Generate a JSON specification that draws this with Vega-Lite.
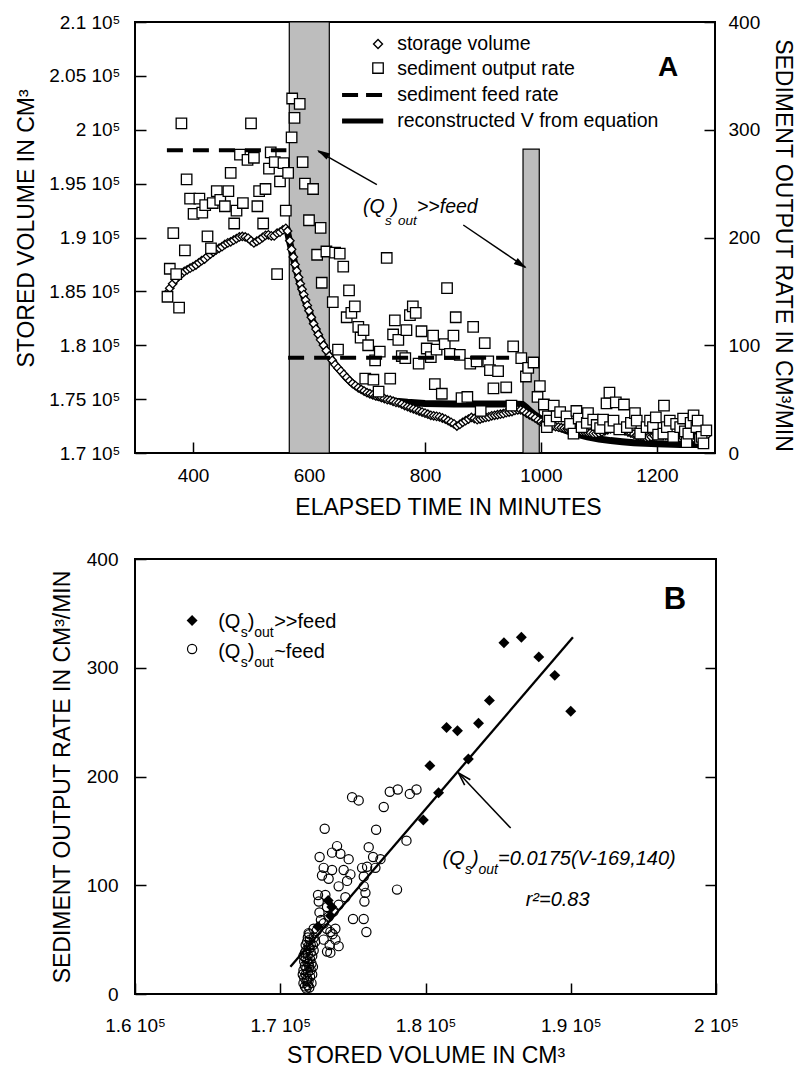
{
"$schema": "https://vega.github.io/schema/vega-lite/v6.json",
"padding": {"left": 14, "top": 12, "right": 4, "bottom": 2},
"background": "white",
"spacing": 28,
"config": {
 "view": {"stroke": "black", "strokeWidth": 2},
 "font": "Liberation Sans",
 "axis": {"domain": false, "grid": false, "ticks": true, "tickColor": "black", "tickWidth": 1.5, "tickSize": -11, "labelColor": "black", "labelFont": "Liberation Sans", "labelFontSize": 19, "titleFont": "Liberation Sans", "titleFontSize": 23, "titleFontWeight": "normal", "titleColor": "black", "labelFlush": false, "labelOverlap": false},
 "text": {"font": "Liberation Sans", "color": "black"}
},
"datasets": {
 "bands": [{"t0":566,"t1":635,"v0":170000,"v1":210000},{"t0":969,"t1":997,"v0":170000,"v1":198200}],
 "feed": [{"seg":"a","t":355,"Q":281},{"seg":"a","t":561,"Q":281},{"seg":"b","t":564,"Q":88.5},{"seg":"b","t":945,"Q":88.5}],
 "recon": [{"t":563,"V":190500},{"t":567,"V":189500},{"t":570,"V":188800},{"t":574,"V":187900},{"t":578,"V":187000},{"t":582,"V":186200},{"t":586,"V":185400},{"t":590,"V":184700},{"t":595,"V":183900},{"t":600,"V":183200},{"t":606,"V":182300},{"t":612,"V":181500},{"t":618,"V":180800},{"t":625,"V":180000},{"t":632,"V":179300},{"t":640,"V":178600},{"t":648,"V":178000},{"t":656,"V":177500},{"t":664,"V":177000},{"t":672,"V":176600},{"t":680,"V":176250},{"t":690,"V":175900},{"t":700,"V":175600},{"t":710,"V":175350},{"t":720,"V":175150},{"t":735,"V":174950},{"t":750,"V":174800},{"t":770,"V":174700},{"t":800,"V":174600},{"t":850,"V":174550},{"t":900,"V":174550},{"t":950,"V":174550},{"t":968,"V":174500},{"t":975,"V":174200},{"t":982,"V":173850},{"t":990,"V":173500},{"t":1000,"V":173150},{"t":1010,"V":172850},{"t":1020,"V":172600},{"t":1035,"V":172250},{"t":1050,"V":171950},{"t":1065,"V":171700},{"t":1080,"V":171500},{"t":1100,"V":171300},{"t":1120,"V":171150},{"t":1140,"V":171050},{"t":1160,"V":170950},{"t":1180,"V":170900},{"t":1200,"V":170850},{"t":1240,"V":170800},{"t":1285,"V":170800}],
 "volume": [{"t":355,"V":184800},{"t":360,"V":185300},{"t":365,"V":185700},{"t":370,"V":186100},{"t":375,"V":186400},{"t":380,"V":186600},{"t":385,"V":186850},{"t":390,"V":187000},{"t":395,"V":187150},{"t":400,"V":187300},{"t":405,"V":187450},{"t":410,"V":187650},{"t":415,"V":187850},{"t":420,"V":188000},{"t":425,"V":188250},{"t":430,"V":188450},{"t":435,"V":188650},{"t":440,"V":188850},{"t":445,"V":189000},{"t":450,"V":189150},{"t":455,"V":189350},{"t":460,"V":189500},{"t":465,"V":189600},{"t":470,"V":189750},{"t":475,"V":189900},{"t":480,"V":190050},{"t":485,"V":190100},{"t":490,"V":190050},{"t":495,"V":189950},{"t":500,"V":189700},{"t":505,"V":189500},{"t":510,"V":189650},{"t":515,"V":189800},{"t":520,"V":190000},{"t":525,"V":190200},{"t":530,"V":190250},{"t":535,"V":190150},{"t":540,"V":190150},{"t":545,"V":190400},{"t":550,"V":190500},{"t":555,"V":190700},{"t":560,"V":190850},{"t":563,"V":190600},{"t":567,"V":189700},{"t":570,"V":188900},{"t":573,"V":188200},{"t":576,"V":187500},{"t":579,"V":186900},{"t":582,"V":186300},{"t":585,"V":185700},{"t":588,"V":185200},{"t":591,"V":184700},{"t":594,"V":184200},{"t":597,"V":183700},{"t":600,"V":183200},{"t":604,"V":182600},{"t":608,"V":182000},{"t":612,"V":181500},{"t":616,"V":181000},{"t":620,"V":180500},{"t":625,"V":180000},{"t":630,"V":179500},{"t":635,"V":179000},{"t":640,"V":178600},{"t":645,"V":178200},{"t":650,"V":177900},{"t":655,"V":177600},{"t":660,"V":177300},{"t":665,"V":177000},{"t":670,"V":176700},{"t":675,"V":176450},{"t":680,"V":176250},{"t":685,"V":176050},{"t":690,"V":175900},{"t":695,"V":175750},{"t":700,"V":175600},{"t":705,"V":175500},{"t":710,"V":175400},{"t":715,"V":175300},{"t":720,"V":175250},{"t":725,"V":175150},{"t":730,"V":175050},{"t":735,"V":174950},{"t":740,"V":174900},{"t":745,"V":174800},{"t":750,"V":174700},{"t":755,"V":174650},{"t":760,"V":174550},{"t":765,"V":174400},{"t":770,"V":174300},{"t":775,"V":174200},{"t":780,"V":174100},{"t":785,"V":174000},{"t":790,"V":173900},{"t":795,"V":173800},{"t":800,"V":173700},{"t":805,"V":173600},{"t":810,"V":173500},{"t":815,"V":173450},{"t":820,"V":173400},{"t":825,"V":173350},{"t":830,"V":173250},{"t":835,"V":173150},{"t":840,"V":173000},{"t":845,"V":172850},{"t":850,"V":172700},{"t":855,"V":172500},{"t":860,"V":172650},{"t":865,"V":172850},{"t":870,"V":173000},{"t":875,"V":173150},{"t":880,"V":173300},{"t":885,"V":173200},{"t":890,"V":173100},{"t":895,"V":173150},{"t":900,"V":173250},{"t":905,"V":173300},{"t":910,"V":173350},{"t":915,"V":173450},{"t":920,"V":173500},{"t":925,"V":173550},{"t":930,"V":173600},{"t":935,"V":173650},{"t":940,"V":173750},{"t":945,"V":173800},{"t":950,"V":173850},{"t":955,"V":173950},{"t":960,"V":174000},{"t":965,"V":174000},{"t":970,"V":173900},{"t":975,"V":173700},{"t":980,"V":173550},{"t":985,"V":173400},{"t":990,"V":173250},{"t":995,"V":173050},{"t":1000,"V":172900},{"t":1005,"V":172800},{"t":1010,"V":172700},{"t":1015,"V":172600},{"t":1020,"V":172500},{"t":1025,"V":172450},{"t":1030,"V":172400},{"t":1035,"V":172350},{"t":1040,"V":172300},{"t":1045,"V":172250},{"t":1050,"V":172200},{"t":1055,"V":172150},{"t":1060,"V":172100},{"t":1065,"V":172050},{"t":1070,"V":172000},{"t":1075,"V":171950},{"t":1080,"V":171900},{"t":1085,"V":171850},{"t":1090,"V":171800},{"t":1095,"V":171800},{"t":1100,"V":171850},{"t":1105,"V":171950},{"t":1110,"V":172050},{"t":1115,"V":172150},{"t":1120,"V":172250},{"t":1125,"V":172300},{"t":1130,"V":172300},{"t":1135,"V":172250},{"t":1140,"V":172150},{"t":1145,"V":172050},{"t":1150,"V":171950},{"t":1155,"V":171850},{"t":1160,"V":171750},{"t":1165,"V":171650},{"t":1170,"V":171550},{"t":1175,"V":171500},{"t":1180,"V":171450},{"t":1185,"V":171450},{"t":1190,"V":171500},{"t":1195,"V":171600},{"t":1200,"V":171650},{"t":1205,"V":171700},{"t":1210,"V":171700},{"t":1215,"V":171650},{"t":1220,"V":171600},{"t":1225,"V":171550},{"t":1230,"V":171500},{"t":1235,"V":171450},{"t":1240,"V":171400},{"t":1245,"V":171400},{"t":1250,"V":171350},{"t":1255,"V":171350},{"t":1260,"V":171300},{"t":1265,"V":171300},{"t":1270,"V":171350},{"t":1275,"V":171400},{"t":1280,"V":171500},{"t":1285,"V":171600}],
 "output": [{"t":356,"Q":145},{"t":360,"Q":171},{"t":366,"Q":204},{"t":371,"Q":166},{"t":376,"Q":135},{"t":380,"Q":306},{"t":386,"Q":188},{"t":389,"Q":254},{"t":395,"Q":236},{"t":401,"Q":222},{"t":411,"Q":236},{"t":416,"Q":223},{"t":421,"Q":230},{"t":425,"Q":201},{"t":431,"Q":190},{"t":434,"Q":232},{"t":441,"Q":243},{"t":447,"Q":235},{"t":455,"Q":229},{"t":461,"Q":243},{"t":465,"Q":260},{"t":471,"Q":213},{"t":475,"Q":225},{"t":481,"Q":277},{"t":486,"Q":232},{"t":494,"Q":272},{"t":500,"Q":306},{"t":505,"Q":274},{"t":511,"Q":229},{"t":514,"Q":243},{"t":521,"Q":213},{"t":525,"Q":245},{"t":531,"Q":264},{"t":534,"Q":279},{"t":541,"Q":270},{"t":545,"Q":166},{"t":550,"Q":252},{"t":556,"Q":269},{"t":560,"Q":225},{"t":564,"Q":260},{"t":570,"Q":293},{"t":571,"Q":329},{"t":575,"Q":311},{"t":584,"Q":324},{"t":589,"Q":270},{"t":593,"Q":250},{"t":600,"Q":216},{"t":607,"Q":245},{"t":614,"Q":184},{"t":620,"Q":209},{"t":622,"Q":158},{"t":630,"Q":187},{"t":641,"Q":140},{"t":645,"Q":186},{"t":650,"Q":96},{"t":653,"Q":185},{"t":659,"Q":173},{"t":665,"Q":126},{"t":669,"Q":151},{"t":673,"Q":130},{"t":679,"Q":136},{"t":685,"Q":117},{"t":689,"Q":107},{"t":694,"Q":114},{"t":697,"Q":69},{"t":702,"Q":100},{"t":711,"Q":68},{"t":714,"Q":86},{"t":720,"Q":57},{"t":722,"Q":94},{"t":734,"Q":181},{"t":740,"Q":69},{"t":745,"Q":110},{"t":748,"Q":123},{"t":754,"Q":105},{"t":760,"Q":90},{"t":766,"Q":88},{"t":768,"Q":114},{"t":774,"Q":128},{"t":779,"Q":136},{"t":784,"Q":130},{"t":789,"Q":83},{"t":794,"Q":113},{"t":803,"Q":97},{"t":810,"Q":89},{"t":814,"Q":109},{"t":817,"Q":64},{"t":820,"Q":96},{"t":829,"Q":55},{"t":834,"Q":101},{"t":838,"Q":153},{"t":843,"Q":92},{"t":849,"Q":109},{"t":853,"Q":126},{"t":860,"Q":91},{"t":863,"Q":51},{"t":873,"Q":52},{"t":878,"Q":83},{"t":883,"Q":117},{"t":889,"Q":85},{"t":896,"Q":39},{"t":903,"Q":102},{"t":909,"Q":85},{"t":912,"Q":77},{"t":918,"Q":60},{"t":926,"Q":76},{"t":940,"Q":61},{"t":949,"Q":44},{"t":952,"Q":99},{"t":966,"Q":88},{"t":974,"Q":71},{"t":978,"Q":79},{"t":987,"Q":84},{"t":994,"Q":52},{"t":998,"Q":62},{"t":1005,"Q":45},{"t":1010,"Q":24},{"t":1012,"Q":34},{"t":1015,"Q":30},{"t":1022,"Q":44},{"t":1027,"Q":34},{"t":1033,"Q":38},{"t":1044,"Q":34},{"t":1050,"Q":27},{"t":1056,"Q":18},{"t":1061,"Q":39},{"t":1065,"Q":32},{"t":1070,"Q":24},{"t":1079,"Q":28},{"t":1081,"Q":37},{"t":1090,"Q":31},{"t":1096,"Q":26},{"t":1102,"Q":23},{"t":1107,"Q":31},{"t":1113,"Q":46},{"t":1118,"Q":56},{"t":1119,"Q":24},{"t":1125,"Q":30},{"t":1129,"Q":47},{"t":1135,"Q":22},{"t":1143,"Q":45},{"t":1148,"Q":24},{"t":1155,"Q":28},{"t":1162,"Q":37},{"t":1165,"Q":30},{"t":1171,"Q":18},{"t":1182,"Q":24},{"t":1188,"Q":30},{"t":1193,"Q":24},{"t":1198,"Q":33},{"t":1202,"Q":17},{"t":1211,"Q":18},{"t":1212,"Q":44},{"t":1217,"Q":24},{"t":1222,"Q":30},{"t":1228,"Q":15},{"t":1233,"Q":27},{"t":1240,"Q":24},{"t":1245,"Q":32},{"t":1248,"Q":20},{"t":1251,"Q":10},{"t":1254,"Q":18},{"t":1258,"Q":28},{"t":1263,"Q":35},{"t":1268,"Q":24},{"t":1270,"Q":30},{"t":1274,"Q":13},{"t":1277,"Q":15},{"t":1280,"Q":9},{"t":1285,"Q":21}],
 "qhigh": [{"V":185400,"Q":323},{"V":186600,"Q":328},{"V":187800,"Q":310},{"V":188900,"Q":293},{"V":190000,"Q":260},{"V":184400,"Q":270},{"V":183650,"Q":249},{"V":181450,"Q":245},{"V":182200,"Q":242},{"V":182950,"Q":216},{"V":180300,"Q":210},{"V":180900,"Q":185},{"V":179850,"Q":160},{"V":172600,"Q":62},{"V":173300,"Q":86},{"V":173550,"Q":80},{"V":173450,"Q":72}],
 "qnear": [{"V":174945,"Q":181},{"V":175400,"Q":178},{"V":177540,"Q":186},{"V":178090,"Q":188},{"V":178920,"Q":184},{"V":179380,"Q":188},{"V":177125,"Q":172},{"V":173060,"Q":152},{"V":176600,"Q":151},{"V":178690,"Q":141},{"V":173910,"Q":136},{"V":173565,"Q":130},{"V":174140,"Q":129},{"V":174710,"Q":124},{"V":172710,"Q":126},{"V":176090,"Q":135},{"V":176390,"Q":126},{"V":176900,"Q":124},{"V":172990,"Q":116},{"V":173565,"Q":114},{"V":174365,"Q":114},{"V":174830,"Q":110},{"V":175635,"Q":116},{"V":175980,"Q":117},{"V":172875,"Q":109},{"V":173330,"Q":106},{"V":174600,"Q":104},{"V":175750,"Q":108},{"V":178040,"Q":96},{"V":174020,"Q":99},{"V":175750,"Q":99},{"V":172600,"Q":91},{"V":173105,"Q":91},{"V":174485,"Q":89},{"V":175865,"Q":93},{"V":175795,"Q":85},{"V":174020,"Q":82},{"V":175010,"Q":69},{"V":175745,"Q":69},{"V":175930,"Q":57},{"V":171955,"Q":56},{"V":173450,"Q":57},{"V":173795,"Q":60},{"V":172990,"Q":50},{"V":174020,"Q":44},{"V":173220,"Q":39},{"V":173450,"Q":38},{"V":173330,"Q":71},{"V":173680,"Q":76},{"V":173220,"Q":80},{"V":176550,"Q":116},{"V":171600,"Q":10},{"V":171700,"Q":7},{"V":171800,"Q":5},{"V":171900,"Q":8},{"V":172000,"Q":6},{"V":171650,"Q":15},{"V":171750,"Q":18},{"V":171850,"Q":14},{"V":171950,"Q":12},{"V":172050,"Q":16},{"V":172150,"Q":10},{"V":171600,"Q":22},{"V":171700,"Q":26},{"V":171800,"Q":24},{"V":171900,"Q":20},{"V":172000,"Q":25},{"V":172100,"Q":22},{"V":172200,"Q":18},{"V":171650,"Q":30},{"V":171750,"Q":33},{"V":171850,"Q":30},{"V":171950,"Q":28},{"V":172050,"Q":32},{"V":172150,"Q":28},{"V":171700,"Q":38},{"V":171800,"Q":40},{"V":171900,"Q":36},{"V":172000,"Q":42},{"V":172100,"Q":38},{"V":172200,"Q":35},{"V":171750,"Q":45},{"V":171850,"Q":48},{"V":171950,"Q":44},{"V":172050,"Q":50},{"V":172250,"Q":45},{"V":171550,"Q":18},{"V":172250,"Q":25},{"V":171600,"Q":35},{"V":172300,"Q":40},{"V":171800,"Q":12},{"V":172100,"Q":45},{"V":171900,"Q":52},{"V":172000,"Q":55},{"V":172300,"Q":52},{"V":172400,"Q":48},{"V":172500,"Q":58},{"V":172700,"Q":75},{"V":172800,"Q":68},{"V":173000,"Q":65},{"V":172650,"Q":85},{"V":173200,"Q":60},{"V":173600,"Q":55},{"V":173800,"Q":50},{"V":173400,"Q":45},{"V":172300,"Q":60}],
 "fit": [{"V":170700,"Q":25},{"V":190150,"Q":328}],
 "one": [{}]
},
"vconcat": [
 {
  "width": 580, "height": 431,
  "layer": [
   {"layer": [
    {"data": {"name": "bands"}, "mark": {"type": "rect", "fill": "#bdbdbd", "stroke": "black", "strokeWidth": 1.2},
     "encoding": {
      "x": {"field": "t0", "type": "quantitative", "scale": {"domain": [300, 1300], "nice": false, "zero": false},
            "axis": {"values": [400, 600, 800, 1000, 1200], "format": "d", "title": "ELAPSED TIME IN MINUTES", "labelPadding": 24.5, "titlePadding": 11, "titleX": 313}},
      "x2": {"field": "t1"},
      "y": {"field": "v0", "type": "quantitative", "scale": {"domain": [170000, 210000], "nice": false, "zero": false},
            "axis": {"orient": "left", "values": [170000, 175000, 180000, 185000, 190000, 195000, 200000, 205000, 210000], "labelExpr": "datum.value / 100000 + ' 10⁵'", "title": "STORED VOLUME IN CM³", "labelPadding": 26, "titlePadding": 10, "titleY": 206}},
      "y2": {"field": "v1"}}},
    {"data": {"name": "recon"}, "mark": {"type": "line", "color": "black", "strokeWidth": 7},
     "encoding": {"x": {"field": "t", "type": "quantitative"}, "y": {"field": "V", "type": "quantitative"}}},
    {"data": {"name": "volume"}, "mark": {"type": "point", "shape": "diamond", "filled": true, "fill": "white", "stroke": "black", "strokeWidth": 1.3, "size": 72, "opacity": 1},
     "encoding": {"x": {"field": "t", "type": "quantitative"}, "y": {"field": "V", "type": "quantitative"}}},
    {"data": {"name": "one"}, "mark": {"type": "point", "shape": "diamond", "filled": true, "fill": "white", "stroke": "black", "strokeWidth": 1.4, "size": 80, "opacity": 1},
     "encoding": {"x": {"datum": 719}, "y": {"datum": 207955}}},
    {"data": {"name": "one"}, "mark": {"type": "point", "shape": "square", "filled": true, "fill": "white", "stroke": "black", "strokeWidth": 1.3, "size": 110, "opacity": 1},
     "encoding": {"x": {"datum": 719}, "y": {"datum": 205728}}},
    {"data": {"name": "one"}, "mark": {"type": "rule", "color": "black", "strokeWidth": 4, "strokeDash": [16, 8]},
     "encoding": {"x": {"datum": 657}, "x2": {"datum": 728}, "y": {"datum": 203222}}},
    {"data": {"name": "one"}, "mark": {"type": "rule", "color": "black", "strokeWidth": 5},
     "encoding": {"x": {"datum": 657}, "x2": {"datum": 728}, "y": {"datum": 200810}}},
    {"data": {"name": "one"}, "mark": {"type": "text", "text": "storage volume", "fontSize": 19.5, "align": "left", "baseline": "middle"},
     "encoding": {"x": {"datum": 752}, "y": {"datum": 207955}}},
    {"data": {"name": "one"}, "mark": {"type": "text", "text": "sediment output rate", "fontSize": 19.5, "align": "left", "baseline": "middle"},
     "encoding": {"x": {"datum": 752}, "y": {"datum": 205635}}},
    {"data": {"name": "one"}, "mark": {"type": "text", "text": "sediment feed rate", "fontSize": 19.5, "align": "left", "baseline": "middle"},
     "encoding": {"x": {"datum": 752}, "y": {"datum": 203222}}},
    {"data": {"name": "one"}, "mark": {"type": "text", "text": "reconstructed V from equation", "fontSize": 19.5, "align": "left", "baseline": "middle"},
     "encoding": {"x": {"datum": 752}, "y": {"datum": 200810}}},
    {"data": {"name": "one"}, "mark": {"type": "text", "text": "A", "fontSize": 28, "fontWeight": "bold", "align": "center", "baseline": "middle"},
     "encoding": {"x": {"datum": 1219}, "y": {"datum": 205728}}}
   ]},
   {"layer": [
    {"data": {"name": "output"}, "mark": {"type": "point", "shape": "square", "filled": true, "fill": "white", "stroke": "black", "strokeWidth": 1.3, "size": 110, "opacity": 1},
     "encoding": {"x": {"field": "t", "type": "quantitative"},
      "y": {"field": "Q", "type": "quantitative", "scale": {"domain": [0, 400], "nice": false, "zero": false},
            "axis": {"orient": "right", "values": [0, 100, 200, 300, 400], "title": "SEDIMENT OUTPUT RATE IN CM³/MIN", "labelPadding": 24, "titlePadding": 11, "titleY": 223}}}},
    {"data": {"name": "feed"}, "mark": {"type": "line", "color": "black", "strokeWidth": 4, "strokeDash": [16, 10]},
     "encoding": {"x": {"field": "t", "type": "quantitative"}, "y": {"field": "Q", "type": "quantitative"}, "detail": {"field": "seg"}}},
    {"data": {"name": "one"}, "mark": {"type": "rule", "color": "black", "strokeWidth": 1.5},
     "encoding": {"x": {"datum": 717}, "y": {"datum": 249}, "x2": {"datum": 616}, "y2": {"datum": 280}}},
    {"data": {"name": "one"}, "mark": {"type": "point", "shape": "M0,0L-0.55,2L0.55,2Z", "filled": true, "color": "black", "size": 169, "angle": 300, "opacity": 1},
     "encoding": {"x": {"datum": 614}, "y": {"datum": 281.2}}},
    {"data": {"name": "one"}, "mark": {"type": "rule", "color": "black", "strokeWidth": 1.5},
     "encoding": {"x": {"datum": 866}, "y": {"datum": 211.6}, "x2": {"datum": 973}, "y2": {"datum": 172.5}}},
    {"data": {"name": "one"}, "mark": {"type": "point", "shape": "M0,0L-0.55,2L0.55,2Z", "filled": true, "color": "black", "size": 169, "angle": 124, "opacity": 1},
     "encoding": {"x": {"datum": 975}, "y": {"datum": 171.4}}},
    {"data": {"name": "one"}, "mark": {"type": "text", "text": "(Q", "fontSize": 19.5, "fontStyle": "italic", "align": "left", "baseline": "alphabetic"},
     "encoding": {"x": {"datum": 693}, "y": {"datum": 222.7}}},
    {"data": {"name": "one"}, "mark": {"type": "text", "text": "s", "fontSize": 13.5, "fontStyle": "italic", "align": "left", "baseline": "alphabetic", "dx": 22, "dy": 12},
     "encoding": {"x": {"datum": 693}, "y": {"datum": 222.7}}},
    {"data": {"name": "one"}, "mark": {"type": "text", "text": ")", "fontSize": 19.5, "fontStyle": "italic", "align": "left", "baseline": "alphabetic", "dx": 28.5},
     "encoding": {"x": {"datum": 693}, "y": {"datum": 222.7}}},
    {"data": {"name": "one"}, "mark": {"type": "text", "text": "out", "fontSize": 13.5, "fontStyle": "italic", "align": "left", "baseline": "alphabetic", "dx": 35, "dy": 12},
     "encoding": {"x": {"datum": 693}, "y": {"datum": 222.7}}},
    {"data": {"name": "one"}, "mark": {"type": "text", "text": ">>feed", "fontSize": 19.5, "fontStyle": "italic", "align": "left", "baseline": "alphabetic", "dx": 54},
     "encoding": {"x": {"datum": 693}, "y": {"datum": 222.7}}}
   ]}
  ],
  "resolve": {"scale": {"y": "independent"}}
 },
 {
  "width": 581, "height": 435,
  "layer": [
   {"layer": [
    {"data": {"name": "qnear"}, "mark": {"type": "point", "shape": "circle", "filled": false, "stroke": "black", "strokeWidth": 1.2, "size": 85, "opacity": 1},
     "encoding": {
      "x": {"field": "V", "type": "quantitative", "scale": {"domain": [160000, 200000], "nice": false, "zero": false},
            "axis": {"values": [160000, 170000, 180000, 190000, 200000], "labelExpr": "datum.value / 100000 + ' 10⁵'", "title": "STORED VOLUME IN CM³", "labelPadding": 33.5, "titlePadding": 8.5}},
      "y": {"field": "Q", "type": "quantitative", "scale": {"domain": [0, 400], "nice": false, "zero": false},
            "axis": {"orient": "left", "values": [0, 100, 200, 300, 400], "title": "SEDIMENT OUTPUT RATE IN CM³/MIN", "labelPadding": 28, "titlePadding": 12}}}},
    {"data": {"name": "qhigh"}, "mark": {"type": "point", "shape": "diamond", "filled": true, "color": "black", "size": 120, "opacity": 1},
     "encoding": {"x": {"field": "V", "type": "quantitative"}, "y": {"field": "Q", "type": "quantitative"}}},
    {"data": {"name": "one"}, "mark": {"type": "rule", "color": "black", "strokeWidth": 1.5},
     "encoding": {"x": {"datum": 185864}, "y": {"datum": 152.6}, "x2": {"datum": 182277}, "y2": {"datum": 203.2}}},
    {"data": {"name": "one"}, "mark": {"type": "point", "shape": "M-0.6,2L0,0L0.6,2", "filled": false, "stroke": "black", "strokeWidth": 1.6, "size": 169, "angle": 316.6, "opacity": 1},
     "encoding": {"x": {"datum": 182277}, "y": {"datum": 203.2}}},
    {"data": {"name": "one"}, "mark": {"type": "point", "shape": "diamond", "filled": true, "color": "black", "size": 120, "opacity": 1},
     "encoding": {"x": {"datum": 163931}, "y": {"datum": 343.4}}},
    {"data": {"name": "one"}, "mark": {"type": "point", "shape": "circle", "filled": false, "stroke": "black", "strokeWidth": 1.2, "size": 85, "opacity": 1},
     "encoding": {"x": {"datum": 163931}, "y": {"datum": 317.2}}},
    {"data": {"name": "one"}, "mark": {"type": "text", "text": "(Q", "fontSize": 20, "align": "left", "baseline": "alphabetic"},
     "encoding": {"x": {"datum": 165725}, "y": {"datum": 336.6}}},
    {"data": {"name": "one"}, "mark": {"type": "text", "text": "s", "fontSize": 14, "align": "left", "baseline": "alphabetic", "dx": 22.5, "dy": 9},
     "encoding": {"x": {"datum": 165725}, "y": {"datum": 336.6}}},
    {"data": {"name": "one"}, "mark": {"type": "text", "text": ")", "fontSize": 20, "align": "left", "baseline": "alphabetic", "dx": 29.5},
     "encoding": {"x": {"datum": 165725}, "y": {"datum": 336.6}}},
    {"data": {"name": "one"}, "mark": {"type": "text", "text": "out", "fontSize": 14, "align": "left", "baseline": "alphabetic", "dx": 36, "dy": 9},
     "encoding": {"x": {"datum": 165725}, "y": {"datum": 336.6}}},
    {"data": {"name": "one"}, "mark": {"type": "text", "text": ">>feed", "fontSize": 20, "align": "left", "baseline": "alphabetic", "dx": 56},
     "encoding": {"x": {"datum": 165725}, "y": {"datum": 336.6}}},
    {"data": {"name": "one"}, "mark": {"type": "text", "text": "(Q", "fontSize": 20, "align": "left", "baseline": "alphabetic"},
     "encoding": {"x": {"datum": 165725}, "y": {"datum": 309}}},
    {"data": {"name": "one"}, "mark": {"type": "text", "text": "s", "fontSize": 14, "align": "left", "baseline": "alphabetic", "dx": 22.5, "dy": 9},
     "encoding": {"x": {"datum": 165725}, "y": {"datum": 309}}},
    {"data": {"name": "one"}, "mark": {"type": "text", "text": ")", "fontSize": 20, "align": "left", "baseline": "alphabetic", "dx": 29.5},
     "encoding": {"x": {"datum": 165725}, "y": {"datum": 309}}},
    {"data": {"name": "one"}, "mark": {"type": "text", "text": "out", "fontSize": 14, "align": "left", "baseline": "alphabetic", "dx": 36, "dy": 9},
     "encoding": {"x": {"datum": 165725}, "y": {"datum": 309}}},
    {"data": {"name": "one"}, "mark": {"type": "text", "text": "~feed", "fontSize": 20, "align": "left", "baseline": "alphabetic", "dx": 56},
     "encoding": {"x": {"datum": 165725}, "y": {"datum": 309}}},
    {"data": {"name": "one"}, "mark": {"type": "text", "text": "(Q", "fontSize": 20, "fontStyle": "italic", "align": "left", "baseline": "alphabetic"},
     "encoding": {"x": {"datum": 181174}, "y": {"datum": 118.6}}},
    {"data": {"name": "one"}, "mark": {"type": "text", "text": "s", "fontSize": 14, "fontStyle": "italic", "align": "left", "baseline": "alphabetic", "dx": 22.5, "dy": 9},
     "encoding": {"x": {"datum": 181174}, "y": {"datum": 118.6}}},
    {"data": {"name": "one"}, "mark": {"type": "text", "text": ")", "fontSize": 20, "fontStyle": "italic", "align": "left", "baseline": "alphabetic", "dx": 29.5},
     "encoding": {"x": {"datum": 181174}, "y": {"datum": 118.6}}},
    {"data": {"name": "one"}, "mark": {"type": "text", "text": "out", "fontSize": 14, "fontStyle": "italic", "align": "left", "baseline": "alphabetic", "dx": 36, "dy": 9},
     "encoding": {"x": {"datum": 181174}, "y": {"datum": 118.6}}},
    {"data": {"name": "one"}, "mark": {"type": "text", "text": "=0.0175(V-169,140)", "fontSize": 20, "fontStyle": "italic", "align": "left", "baseline": "alphabetic", "dx": 55.5},
     "encoding": {"x": {"datum": 181174}, "y": {"datum": 118.6}}},
    {"data": {"name": "one"}, "mark": {"type": "text", "text": "r²=0.83", "fontSize": 20, "fontStyle": "italic", "align": "left", "baseline": "alphabetic"},
     "encoding": {"x": {"datum": 186898}, "y": {"datum": 80.9}}},
    {"data": {"name": "one"}, "mark": {"type": "text", "text": "B", "fontSize": 31, "fontWeight": "bold", "align": "center", "baseline": "middle"},
     "encoding": {"x": {"datum": 197175}, "y": {"datum": 362.3}}}
   ]},
   {"data": {"name": "fit"}, "mark": {"type": "line", "color": "black", "strokeWidth": 2.3},
    "encoding": {"x": {"field": "V", "type": "quantitative"},
     "y": {"field": "Q", "type": "quantitative", "axis": {"orient": "right", "values": [100, 200, 300], "labels": false, "title": null}}}}
  ],
  "resolve": {"axis": {"y": "independent"}}
 }
]
}
